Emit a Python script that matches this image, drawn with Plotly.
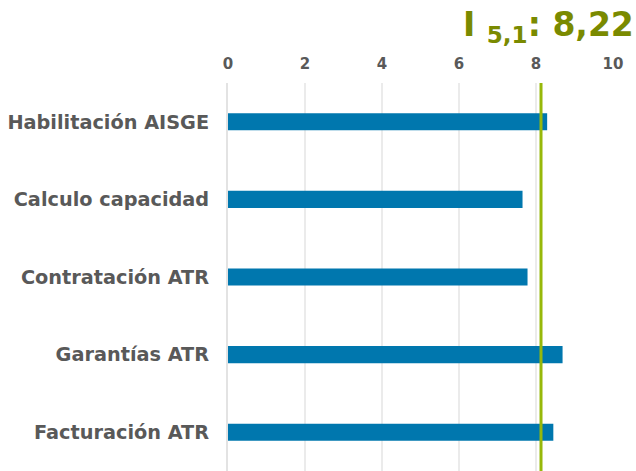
import plotly.graph_objects as go

categories = ["Habilitación AISGE", "Calculo capacidad", "Contratación ATR", "Garantías ATR", "Facturación ATR"]
values = [8.29, 7.65, 7.78, 8.69, 8.45]
line_value = 8.13
title_text = "I <sub>5,1</sub>: 8,22"
x_ticks = [0, 2, 4, 6, 8, 10]

fig = go.Figure()
fig.add_trace(go.Bar(
    y=categories, x=values, orientation="h",
    marker=dict(color="#0077AE", line=dict(width=0)),
    width=0.22,
))
fig.add_shape(type="line", xref="x", yref="paper", x0=line_value, x1=line_value, y0=0, y1=1,
              line=dict(color="#97B80A", width=3))
fig.add_annotation(text=title_text, xref="paper", yref="paper", x=1.06, y=1.0, yshift=80,
                   xanchor="right", yanchor="top", showarrow=False,
                   font=dict(family="DejaVu Sans", size=33, color="#7A8A00", weight="bold"))

fig.update_layout(
    width=636, height=471,
    margin=dict(l=228, r=23, t=83, b=0),
    plot_bgcolor="white", paper_bgcolor="white",
    showlegend=False,
    font=dict(family="DejaVu Sans", color="#595959"),
)
fig.update_xaxes(
    range=[0, 10], side="top", tickvals=x_ticks,
    showgrid=True, gridcolor="#EBEBEB", gridwidth=1.5,
    zeroline=False, showline=False,
    tickfont=dict(size=15, color="#595959", weight="bold"),
    ticks="outside", ticklen=7, tickcolor="white",
)
fig.update_yaxes(
    categoryorder="array", categoryarray=categories[::-1],
    showgrid=False, zeroline=False,
    showline=True, linecolor="#E3E3E3", linewidth=2,
    tickfont=dict(size=19.3, color="#595959", weight="bold"),
    ticks="outside", ticklen=13, tickcolor="white",
)

fig.write_html("out.html")
